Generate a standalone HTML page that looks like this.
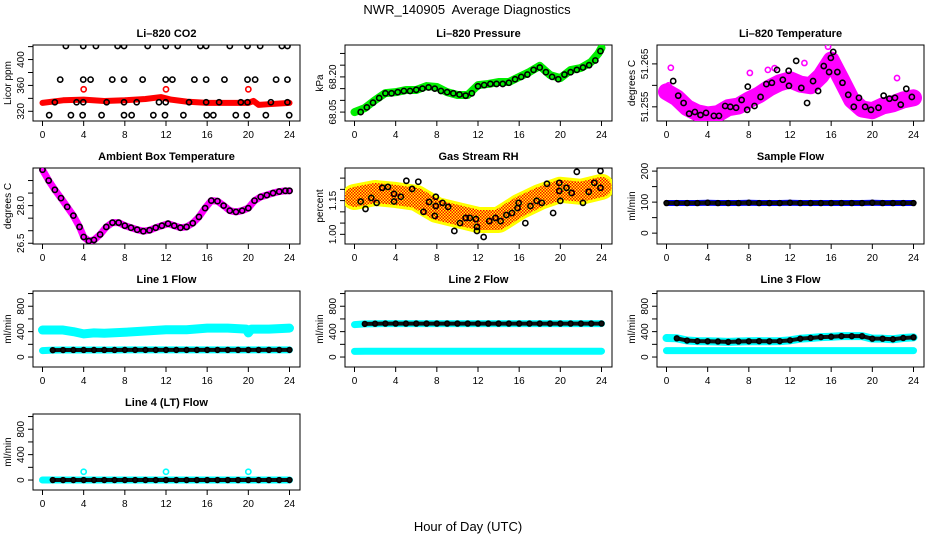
<!DOCTYPE html>
<html><head><meta charset="utf-8"><style>
html,body{margin:0;padding:0;background:#fff}
svg{display:block;font-family:"Liberation Sans",sans-serif}
</style></head><body>
<svg id="chart" width="936" height="540" viewBox="0 0 936 540">
<defs>
<pattern id="checker" width="3" height="3" patternUnits="userSpaceOnUse">
<rect width="3" height="3" fill="#ff0"/><rect width="1.5" height="1.5" fill="#f00"/><rect x="1.5" y="1.5" width="1.5" height="1.5" fill="#f00"/>
</pattern>
</defs>
<text x="467" y="14" text-anchor="middle" font-size="13" style="white-space:pre">NWR_140905  Average Diagnostics</text>
<text x="468" y="531" text-anchor="middle" font-size="13">Hour of Day (UTC)</text>
</svg>
<script>
// ---- data ----
const co2BandT=[0,2,4,6,8,10,11.5,12.5,14,16,18,20,20.5,21,22,24];
const co2BandV=[333,337,338,336,337,339,342,338,335,333,333,333,336,330,331,333];
const co2PtsT=[2.27,3.96,5.19,7.3,7.92,10.22,11.97,13.14,15.34,15.9,18.2,19.92,21.15,23.26,23.8,
1.72,3.96,4.67,6.78,7.92,9.73,11.97,12.62,14.76,15.9,17.68,19.92,20.66,22.7,23.8,
1.2,3.31,3.96,6.23,7.92,9.15,11.32,11.97,14.24,15.9,17.16,19.27,19.92,22.19,23.8,
0.65,2.76,3.9,5.74,7.92,8.66,10.77,11.9,13.69,15.96,16.6,18.78,19.85,21.7,23.97];
const co2PtsV=[421,421,421,421,421,421,421,421,421,421,421,421,421,421,421,
369,369,369,369,369,369,369,369,369,369,369,369,369,369,369,
334,334,334,334,334,334,334,334,334,334,334,334,334,334,334,
314,314,314,314,314,314,314,314,314,314,314,314,314,314,314];
const co2RedT=[4,12,20];
const co2RedV=[354,354,354];

const presT=[0,1,2,3,4,5,6,7,8,9,10,11,12,13,14,15,16,17,18,19,20,21,22,23,23.7,24];
const presV=[68.050,68.067,68.101,68.131,68.135,68.144,68.144,68.161,68.157,68.135,68.123,68.123,68.165,68.170,68.178,68.178,68.200,68.221,68.247,68.208,68.195,68.229,68.238,68.264,68.300,68.324];
const presBlackT=[0.6,1.2,1.8,2.4,3,3.6,4.2,4.8,5.4,6,6.6,7.2,7.8,8.4,9,9.6,10.2,10.8,11.4,12,12.6,13.2,13.8,14.4,15,15.6,16.2,16.8,17.4,18,18.6,19.2,19.8,20.4,21,21.6,22.2,22.8,23.4,23.9];
const presBlackV=[68.05,68.07,68.09,68.11,68.13,68.13,68.135,68.14,68.14,68.145,68.15,68.155,68.15,68.14,68.135,68.13,68.125,68.12,68.13,68.16,68.165,68.17,68.17,68.17,68.175,68.19,68.2,68.21,68.23,68.24,68.22,68.2,68.19,68.21,68.22,68.23,68.24,68.25,68.27,68.31];

const tempT=[0,1,2,3,4,5,6,7,8,9,10,11,12,13,14,15,16,17,18,19,20,21,22,23,24];
const tempV=[51.2585,51.2571,51.2548,51.2536,51.2531,51.2534,51.2548,51.2552,51.2566,51.2578,51.2594,51.2606,51.2613,51.2603,51.2599,51.2622,51.2659,51.2613,51.2566,51.2545,51.2541,51.2552,51.2557,51.2566,51.2571];
const tempOutT=[0.42,8.1,9.85,13.4,22.4,15.7,0.2,10.5];
const tempOutV=[51.2641,51.2629,51.2636,51.2652,51.2617,51.2690,51.2600,51.2640];
const tempBlackT=[0.65,1.14,1.66,2.2,2.76,3.3,3.84,4.6,5.1,5.7,6.2,6.76,7.3,7.84,7.9,8.55,9.14,9.7,10.24,10.74,11.3,11.87,11.9,12.6,13.1,13.66,14.24,14.73,15.28,15.8,15.97,16.2,16.6,17.1,17.66,18.2,18.7,19.3,19.87,20.6,21.1,21.66,22.2,22.76,23.3,23.84];
const tempBlackV=[51.2610,51.2576,51.2559,51.2534,51.2538,51.2531,51.2536,51.2529,51.2529,51.2552,51.2550,51.2548,51.2566,51.2543,51.2597,51.2552,51.2573,51.2603,51.2606,51.2636,51.2613,51.2634,51.2599,51.2657,51.2594,51.2559,51.2610,51.2587,51.2645,51.2631,51.2664,51.2678,51.2631,51.2606,51.2578,51.2550,51.2571,51.2550,51.2543,51.2548,51.2576,51.2569,51.2571,51.2555,51.2592,51.2573];

const ambT=[0,0.6,1.2,1.8,2.4,3,3.6,4,4.5,5,5.6,6.2,6.8,7.4,8,8.6,9.2,9.8,10.4,11,11.6,12.2,12.8,13.4,14,14.6,15.2,15.8,16.4,17,17.6,18.2,18.8,19.4,20,20.6,21.2,21.8,22.4,23,23.6,24];
const ambV=[29.43,29.0,28.63,28.3,27.95,27.6,27.15,26.75,26.59,26.63,26.85,27.15,27.32,27.32,27.2,27.12,27.04,26.98,27.02,27.12,27.2,27.28,27.2,27.12,27.15,27.3,27.55,27.9,28.2,28.18,28.0,27.8,27.75,27.8,27.9,28.2,28.35,28.42,28.5,28.56,28.59,28.59];

const rhT=[0,2,4,6,8,10,12,14,16,18,20,22,24];
const rhV=[1.166,1.184,1.175,1.162,1.108,1.086,1.064,1.064,1.122,1.166,1.198,1.189,1.211];
const rhBlackT=[0.6,1.07,1.63,2.15,2.7,3.25,3.84,3.84,4.5,5.04,5.6,6.2,6.7,7.25,7.8,7.9,7.9,8.55,9.1,9.7,10.25,10.8,11.2,11.8,11.9,11.9,12.55,13.1,13.7,14.2,14.76,15.3,15.84,15.95,16.6,17.1,17.7,18.2,18.7,19.3,19.9,19.9,20,20.6,21.1,21.6,22.2,22.76,23.3,23.9,23.9];
const rhBlackV=[1.146,1.113,1.162,1.140,1.207,1.211,1.180,1.146,1.167,1.238,1.202,1.234,1.100,1.144,1.082,1.126,1.167,1.140,1.122,1.015,1.050,1.073,1.073,1.068,1.033,1.015,0.988,1.059,1.073,1.059,1.086,1.095,1.117,1.140,1.050,1.126,1.149,1.140,1.225,1.095,1.229,1.193,1.149,1.207,1.184,1.278,1.140,1.189,1.229,1.207,1.282];

const hours=[0,1,2,3,4,5,6,7,8,9,10,11,12,13,14,15,16,17,18,19,20,21,22,23,24];
const sampV=[97,97,97,97,98,97,97,97,98,97,97,97,98,97,97,97,97,97,97,97,98,97,97,97,97];
const l1UpT=[0,2,3,4,5,6,8,10,12,14,16,18,19.8,20,20.3,22,24];
const l1UpV=[425,425,400,365,380,375,390,410,430,430,455,455,440,380,440,440,455];
const l1LowV=[100,108,110,111,111,111,111,111,112,112,112,112,112,112,112,112,112,112,112,112,112,112,112,112,112];
const l2UpV=[510,522,525,527,527,527,527,527,527,527,527,527,527,527,527,527,527,527,527,527,527,527,527,527,527];
const l2LowV=[90,92,92,92,92,92,92,92,92,92,92,92,92,92,92,92,92,92,92,92,92,92,92,92,92];
const l3UpV=[300,295,260,250,248,245,238,245,248,250,248,250,263,289,300,314,320,329,329,329,289,289,280,300,310];
const l3LowV=[101,101,101,101,101,101,101,101,101,101,101,101,101,101,101,101,101,101,101,101,101,101,101,101,101];
const l4V=[0,0,0,0,0,0,0,0,0,0,0,0,0,0,0,0,0,0,0,0,0,0,0,0,0];
const l4SpikeT=[4,12,20];
const l4SpikeV=[130,130,130];
const xTicks=[0,4,8,12,16,20,24];

// ---- drawing ----
const NS='http://www.w3.org/2000/svg';
const svg=document.getElementById('chart');
function mk(tag,attrs,parent){const e=document.createElementNS(NS,tag);for(const k in attrs)e.setAttribute(k,attrs[k]);(parent||svg).appendChild(e);return e;}

function panel(col,row,title,ylab,ymin,ymax,ticks,labels,name){
  const L=33+312*col, R=L+267, T=45+123*row, B=T+76;
  const g=mk('g',{});
  
  
  const sx=h=>L+9.5+(h/24)*247;
  const sy=v=>B-(v-ymin)/(ymax-ymin)*76;
  const t=mk('text',{x:(L+R)/2,y:T-8,'text-anchor':'middle','font-size':'11','font-weight':'bold'},g);
  t.textContent=title;
  
  
  const yl=mk('text',{x:0,y:0,'text-anchor':'middle','font-size':'10',transform:`translate(${L-22},${(T+B)/2}) rotate(-90)`},g);
  yl.textContent=ylab;
  
  
  const box=mk('rect',{x:L,y:T,width:R-L,height:B-T,fill:'none',stroke:'#000','stroke-width':1},g);
  
  
  xTicks.forEach(h=>{
    mk('line',{x1:sx(h),x2:sx(h),y1:B,y2:B+5,stroke:'#000'},g);
    const tl=mk('text',{x:sx(h),y:B+17,'text-anchor':'middle','font-size':'10'},g);
    tl.textContent=h;
    
    
  });
  ticks.forEach((v,i)=>{
    mk('line',{x1:L,x2:L-5,y1:sy(v),y2:sy(v),stroke:'#000'},g);
    if(labels[i]!==''){
      const tl=mk('text',{x:0,y:0,'text-anchor':'middle','font-size':'10',transform:`translate(${L-9},${sy(v)}) rotate(-90)`},g);
      tl.textContent=labels[i];
      
      
    }
  });
  const clip='clip'+name;
  const cp=mk('clipPath',{id:clip},g);mk('rect',{x:L,y:T,width:R-L,height:B-T},cp);
  const pg=mk('g',{'clip-path':`url(#${clip})`},g);
  return {sx,sy,g:pg};
}
function band(p,T,V,color,w,nm){
  const l=mk('polyline',{points:T.map((t,i)=>p.sx(t)+','+p.sy(V[i])).join(' '),fill:'none',stroke:color,'stroke-width':w,'stroke-linejoin':'round','stroke-linecap':'round'},p.g);
  
  
}
function pts(p,T,V,color,r,nm){
  T.forEach((t,i)=>{
    const c=mk('circle',{cx:p.sx(t),cy:p.sy(V[i]),r:r||2.6,fill:'none',stroke:color,'stroke-width':1.6},p.g);
    
    
  });
}
const flowTicks=[0,200,400,600,800,1000], flowLab=['0','','400','','800',''];

let p=panel(0,0,'Li\u2013820 CO2','Licor ppm',305,422.5,[320,340,360,380,400,420],['320','','360','','400',''],'co2');
band(p,co2BandT,co2BandV,'#f00',6,'co2-band');
pts(p,co2RedT,co2RedV,'#f00',2.6,'co2-red-point');
pts(p,co2PtsT,co2PtsV,'#000',2.6,'co2-point');

p=panel(1,0,'Li\u2013820 Pressure','kPa',68.012,68.336,[68.05,68.10,68.15,68.20,68.25,68.30],['68.05','','','68.20','',''],'pressure');
band(p,presT,presV,'#0e0',8,'pressure-band');
pts(p,presBlackT,presBlackV,'#000',2.6,'pressure-point');

p=panel(2,0,'Li\u2013820 Temperature','degrees C',51.2517,51.2694,[51.255,51.260,51.265],['51.255','','51.265'],'temperature');
band(p,tempT,tempV,'#f0f',17,'temperature-band');
pts(p,tempOutT,tempOutV,'#f0f',2.6,'temperature-outlier');
pts(p,tempBlackT,tempBlackV,'#000',2.6,'temperature-point');

p=panel(0,1,'Ambient Box Temperature','degrees C',26.47,29.5,[26.5,27.0,27.5,28.0,28.5,29.0],['26.5','','','28.0','',''],'ambient');
band(p,ambT,ambV,'#f0f',7,'ambient-band');
pts(p,ambT,ambV,'#000',2.6,'ambient-point');

p=panel(1,1,'Gas Stream RH','percent',0.957,1.295,[1.00,1.05,1.10,1.15,1.20,1.25],['1.00','','','1.15','',''],'rh');
band(p,rhT,rhV,'#ff0',26,'rh-band-yellow');
band(p,rhT,rhV,'url(#checker)',20,'rh-band-checker');
pts(p,rhBlackT,rhBlackV,'#000',2.6,'rh-point');

p=panel(2,1,'Sample Flow','ml/min',-35,210,[0,50,100,150,200],['0','','100','','200'],'sample-flow');
band(p,hours,sampV,'#00f',6,'sample-flow-band');
band(p,hours,sampV,'#111',4,'sample-flow-black');
pts(p,hours,sampV,'#000',2.4,'sample-flow-point');

p=panel(0,2,'Line 1 Flow','ml/min',-157,1040,flowTicks,flowLab,'line1');
band(p,l1UpT,l1UpV,'#0ff',9,'line1-upper-band');
band(p,hours,l1LowV,'#0ff',7,'line1-lower-band');
band(p,hours.slice(1),l1LowV.slice(1),'#111',4,'line1-black');
pts(p,hours.slice(1),l1LowV.slice(1),'#000',2.4,'line1-point');

p=panel(1,2,'Line 2 Flow','ml/min',-157,1040,flowTicks,flowLab,'line2');
band(p,hours,l2UpV,'#0ff',7,'line2-upper-band');
band(p,hours,l2LowV,'#0ff',7,'line2-lower-band');
band(p,hours.slice(1),l2UpV.slice(1),'#111',4,'line2-black');
pts(p,hours.slice(1),l2UpV.slice(1),'#000',2.4,'line2-point');

p=panel(2,2,'Line 3 Flow','ml/min',-157,1040,flowTicks,flowLab,'line3');
band(p,hours,l3UpV,'#0ff',8,'line3-upper-band');
band(p,hours,l3LowV,'#0ff',7,'line3-lower-band');
band(p,hours.slice(1),l3UpV.slice(1),'#111',4,'line3-black');
pts(p,hours.slice(1),l3UpV.slice(1),'#000',2.4,'line3-point');

p=panel(0,3,'Line 4 (LT) Flow','ml/min',-157,1040,flowTicks,flowLab,'line4');
band(p,hours,l4V,'#0ff',7,'line4-band');
pts(p,l4SpikeT,l4SpikeV,'#0ff',2.6,'line4-spike');
band(p,hours.slice(1),l4V.slice(1),'#111',4,'line4-black');
pts(p,hours.slice(1),l4V.slice(1),'#000',2.4,'line4-point');
</script>
</body></html>
